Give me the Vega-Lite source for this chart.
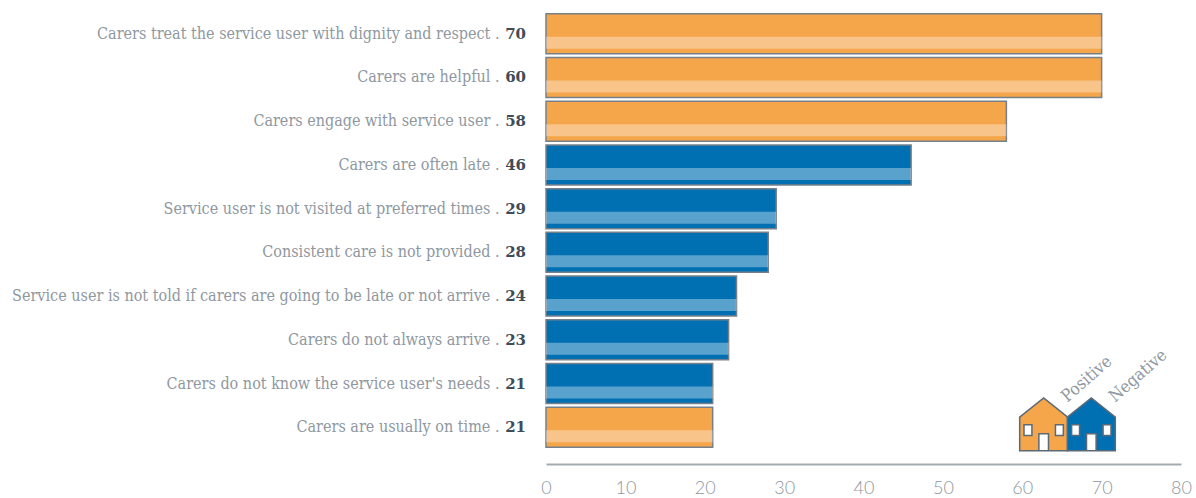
{
"$schema":"https://vega.github.io/schema/vega-lite/v6.json",
"width":635,"height":437,
"autosize":{"type":"none"},
"padding":{"left":546,"top":12,"right":15,"bottom":49},
"background":"white",
"config":{"view":{"stroke":null}},
"datasets":{"rows":[
{"item":"Carers treat the service user with dignity and respect .","bar":70,"shown":70,"type":"Positive"},
{"item":"Carers are helpful .","bar":70,"shown":60,"type":"Positive"},
{"item":"Carers engage with service user .","bar":58,"shown":58,"type":"Positive"},
{"item":"Carers are often late .","bar":46,"shown":46,"type":"Negative"},
{"item":"Service user is not visited at preferred times .","bar":29,"shown":29,"type":"Negative"},
{"item":"Consistent care is not provided .","bar":28,"shown":28,"type":"Negative"},
{"item":"Service user is not told if carers are going to be late or not arrive .","bar":24,"shown":24,"type":"Negative"},
{"item":"Carers do not always arrive .","bar":23,"shown":23,"type":"Negative"},
{"item":"Carers do not know the service user's needs .","bar":21,"shown":21,"type":"Negative"},
{"item":"Carers are usually on time .","bar":21,"shown":21,"type":"Positive"}
]},
"data":{"name":"rows"},
"encoding":{
"y":{"field":"item","type":"nominal","sort":null,"title":null,
"scale":{"paddingInner":0.085,"paddingOuter":0.04},
"axis":{"domain":false,"ticks":false,"labelPadding":47,"labelFont":"DejaVu Serif Condensed","labelFontSize":16,"labelColor":"#8f989f","labelLimit":600}}
},
"layer":[
{"mark":{"type":"bar","stroke":"#76808a","strokeWidth":1.5},
"encoding":{"x":{"field":"bar","type":"quantitative","title":null,
"scale":{"domain":[0,80],"nice":false},
"axis":{"values":[0,10,20,30,40,50,60,70,80],"grid":false,"ticks":false,"offset":15,"domainColor":"#a3abb2","domainWidth":2,"labelFont":"Lato","labelFontWeight":300,"labelFontSize":18,"labelColor":"#8f989f","labelPadding":15,"labelFlush":false}},
"color":{"field":"type","type":"nominal","legend":null,"scale":{"domain":["Positive","Negative"],"range":["#f5a54a","#0070b2"]}}}},
{"mark":{"type":"bar","fill":"white","opacity":0.35,"height":12,"yOffset":9},
"encoding":{"x":{"field":"bar","type":"quantitative"}}},
{"mark":{"type":"text","align":"right","baseline":"middle","dx":-20,"font":"DejaVu Serif","fontWeight":"bold","fontSize":15,"fill":"#3f4c58"},
"encoding":{"x":{"datum":0,"type":"quantitative"},"text":{"field":"shown","type":"quantitative"}}},
{"data":{"values":[{"house":"Positive","rowitem":"Carers are usually on time ."}]},
"mark":{"type":"point","filled":true,"size":2304,"yOffset":-3,"stroke":"#5d6a75","strokeWidth":1.5,"opacity":1,
"shape":"M-1,-0.3 L0,-1.1 L1,-0.3 L1,1.1 L-1,1.1 Z M-0.82,0.02 L-0.82,0.47 L-0.49,0.47 L-0.49,0.02 Z M0.49,0.02 L0.49,0.47 L0.82,0.47 L0.82,0.02 Z M-0.2,0.4 L-0.2,1.1 L0.2,1.1 L0.2,0.4 Z"},
"encoding":{"x":{"datum":62.7,"type":"quantitative"},"y":{"field":"rowitem","type":"nominal","sort":null},"color":{"field":"house","type":"nominal","legend":null}}},
{"data":{"values":[{"house":"Negative","rowitem":"Carers are usually on time ."}]},
"mark":{"type":"point","filled":true,"size":2304,"yOffset":-3,"stroke":"#5d6a75","strokeWidth":1.5,"opacity":1,
"shape":"M-1,-0.3 L0,-1.1 L1,-0.3 L1,1.1 L-1,1.1 Z M-0.82,0.02 L-0.82,0.47 L-0.49,0.47 L-0.49,0.02 Z M0.49,0.02 L0.49,0.47 L0.82,0.47 L0.82,0.02 Z M-0.2,0.4 L-0.2,1.1 L0.2,1.1 L0.2,0.4 Z"},
"encoding":{"x":{"datum":68.7,"type":"quantitative"},"y":{"field":"rowitem","type":"nominal","sort":null},"color":{"field":"house","type":"nominal","legend":null}}},
{"data":{"values":[{"house":"Positive","rowitem":"Carers are usually on time ."}]},
"mark":{"type":"text","angle":-41,"align":"left","baseline":"middle","font":"DejaVu Serif Condensed","fontSize":17,"fill":"#8f989f","dx":34,"dy":-8},
"encoding":{"x":{"datum":62.7,"type":"quantitative"},"y":{"field":"rowitem","type":"nominal","sort":null},"text":{"field":"house"}}},
{"data":{"values":[{"house":"Negative","rowitem":"Carers are usually on time ."}]},
"mark":{"type":"text","angle":-41,"align":"left","baseline":"middle","font":"DejaVu Serif Condensed","fontSize":17,"fill":"#8f989f","dx":34,"dy":-8},
"encoding":{"x":{"datum":68.7,"type":"quantitative"},"y":{"field":"rowitem","type":"nominal","sort":null},"text":{"field":"house"}}}
]
}
